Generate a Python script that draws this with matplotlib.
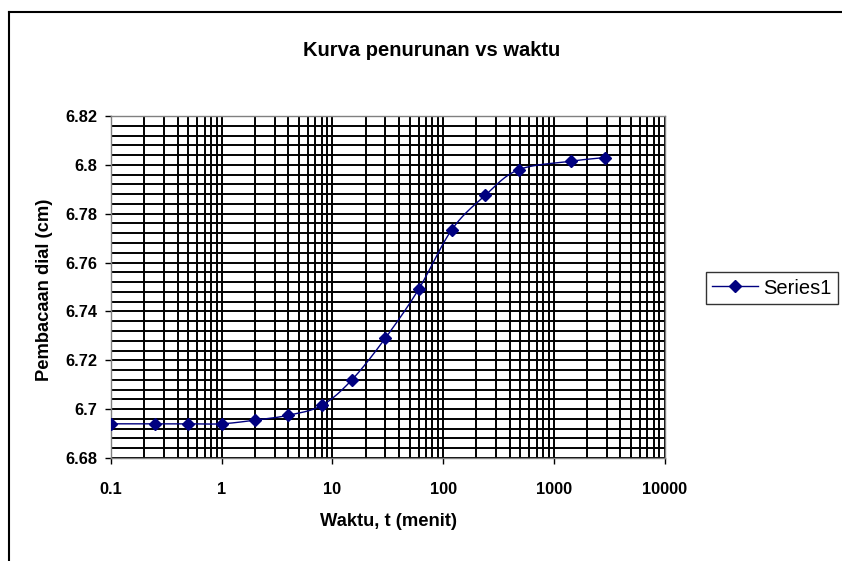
import numpy as np
import matplotlib
matplotlib.use("Agg")
import matplotlib.pyplot as plt
from matplotlib.ticker import FixedLocator, NullFormatter, LogLocator
from matplotlib.lines import Line2D

# Data
waktu = [0.1, 0.25, 0.5, 1, 2, 4, 8, 15, 30, 60, 120, 240, 480, 1440, 2880]
pembacaan = [6.694, 6.694, 6.694, 6.694, 6.6955, 6.6975, 6.7015, 6.712, 6.729,
             6.749, 6.7735, 6.7875, 6.798, 6.8015, 6.803]
x_ticks = [0.1, 1, 10, 100, 1000, 10000]
x_tick_labels = ["0.1", "1", "10", "100", "1000", "10000"]
y_ticks = [6.68, 6.70, 6.72, 6.74, 6.76, 6.78, 6.80, 6.82]
y_tick_labels = ["6.68", "6.7", "6.72", "6.74", "6.76", "6.78", "6.8", "6.82"]
title = "Kurva penurunan vs waktu"
xlabel = "Waktu, t (menit)"
ylabel = "Pembacaan dial (cm)"
series_name = "Series1"

plt.rcParams['font.family'] = ['Liberation Sans', 'DejaVu Sans']

fig = plt.figure(figsize=(8.42, 5.61), dpi=100)
W, H = 842, 561
ax = fig.add_axes([111 / W, 1 - 458 / H, (664.5 - 111) / W, (458 - 116) / H])

# Smoothed line (Catmull-Rom in log-x space)
lx = np.log10(np.array(waktu, dtype=float))
yy = np.array(pembacaan, dtype=float)
P = np.column_stack([lx, yy])
Pext = np.vstack([P[0] * 2 - P[1], P, P[-1] * 2 - P[-2]])
curve = []
for i in range(1, len(Pext) - 2):
    p0, p1, p2, p3 = Pext[i - 1], Pext[i], Pext[i + 1], Pext[i + 2]
    t = np.linspace(0, 1, 20)[:, None]
    seg = 0.5 * ((2 * p1) + (-p0 + p2) * t + (2 * p0 - 5 * p1 + 4 * p2 - p3) * t ** 2
                 + (-p0 + 3 * p1 - 3 * p2 + p3) * t ** 3)
    curve.append(seg)
curve = np.vstack(curve)

ax.set_xscale('log')
ax.set_xlim(0.1, 10000)
ax.set_ylim(6.68, 6.82)

# Grid
minor_y = np.arange(6.68, 6.8201, 0.004)
ax.yaxis.set_minor_locator(FixedLocator(minor_y))
ax.xaxis.set_minor_locator(LogLocator(base=10, subs=np.arange(2, 10)))
ax.xaxis.set_minor_formatter(NullFormatter())
ax.grid(True, which='both', color='black', linewidth=1.4)
ax.set_axisbelow(True)

ax.plot(10 ** curve[:, 0], curve[:, 1], color='#000080', linewidth=1.0, zorder=3)
ax.plot(waktu, pembacaan, linestyle='none', marker='D', markersize=6.5,
        color='#000080', zorder=4)

ax.set_xticks(x_ticks)
ax.set_xticklabels(x_tick_labels)
ax.set_yticks(y_ticks)
ax.set_yticklabels(y_tick_labels)
ax.tick_params(axis='both', which='minor', length=0)
ax.tick_params(axis='both', which='major', length=4, width=1, color='black',
               labelsize=11.8, direction='out')
for lab in ax.get_xticklabels() + ax.get_yticklabels():
    lab.set_fontweight('bold')
ax.tick_params(axis='x', pad=13)
ax.tick_params(axis='y', pad=6)

for s in ax.spines.values():
    s.set_color('#808080')
    s.set_linewidth(1.0)

ax.set_xlabel(xlabel, fontsize=13.2, fontweight='bold')
ax.set_ylabel(ylabel, fontsize=13.2, fontweight='bold')
ax.yaxis.set_label_coords(45 / W, 1 - 290 / H, transform=fig.transFigure)
ax.xaxis.set_label_coords(388 / W, 1 - 522 / H, transform=fig.transFigure)
ax.xaxis.label.set_va('center')
ax.yaxis.label.set_va('center')
fig.text(432 / W, 1 - 50 / H, title, fontsize=14.5, fontweight='bold',
         ha='center', va='center')

# Legend
leg = ax.legend([Line2D([0], [0], color='#000080', marker='D', markersize=6.5, linewidth=1.0)],
                [series_name], loc='center left', bbox_to_anchor=(706 / W, 1 - 288 / H),
                bbox_transform=fig.transFigure, frameon=True, fancybox=False,
                edgecolor='black', fontsize=14.5, handlelength=2.3, borderpad=0.3,
                handletextpad=0.25, borderaxespad=0)
leg.get_frame().set_linewidth(1.0)

# outer chart border (left and top)
fig.add_artist(Line2D([8.5 / W, 8.5 / W], [0, 1 - 12 / H], color='black', linewidth=1.5,
                      transform=fig.transFigure))
fig.add_artist(Line2D([8.5 / W, 1], [1 - 12 / H, 1 - 12 / H], color='black', linewidth=1.5,
                      transform=fig.transFigure))

fig.savefig('out.png', dpi=100)
